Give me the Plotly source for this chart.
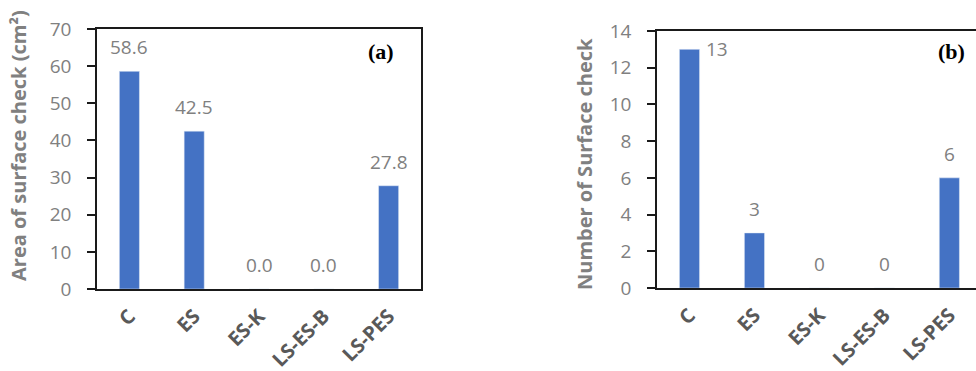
import plotly.graph_objects as go

# Treatments and measured surface-check results
categories = ["C", "ES", "ES-K", "LS-ES-B", "LS-PES"]
check_area = [58.6, 42.5, 0.0, 0.0, 27.8]      # cm²
check_count = [13, 3, 0, 0, 6]

bar_color = "#4472C4"
tick_gray = "#808080"
cat_gray = "#595959"
sans = "Open Sans"

fig = go.Figure()
fig.add_trace(go.Bar(x=categories, y=check_area, marker_color=bar_color,
                     width=0.31, xaxis="x", yaxis="y", showlegend=False))
fig.add_trace(go.Bar(x=categories, y=check_count, marker_color=bar_color,
                     width=0.31, xaxis="x2", yaxis="y2", showlegend=False))

axis_common = dict(showline=True, linecolor="#1a1a1a", linewidth=1.5, mirror=True,
                   showgrid=False, zeroline=False, automargin=False)

cat_font = dict(family=sans, size=20, color=cat_gray, weight="bold")
num_font = dict(family=sans, size=19, color=tick_gray)

fig.update_layout(
    width=976, height=371,
    margin=dict(l=0, r=0, t=0, b=0, autoexpand=False),
    plot_bgcolor="white", paper_bgcolor="white",
    xaxis=dict(domain=[97 / 976, 421 / 976], anchor="y", range=[-0.5, 4.5],
               tickangle=-45, ticks="", ticklabelstandoff=6, tickfont=cat_font,
               **axis_common),
    yaxis=dict(domain=[1 - 289 / 371, 1 - 29 / 371], anchor="x", range=[0, 70],
               dtick=10, ticks="outside", ticklen=8, tickcolor="#1a1a1a", tickwidth=1.5,
               ticklabelstandoff=12, tickfont=num_font, **axis_common),
    xaxis2=dict(domain=[657 / 976, 1.0], anchor="y2", range=[-0.5, 4.41],
                tickangle=-45, ticks="", ticklabelstandoff=6, tickfont=cat_font,
                **axis_common),
    yaxis2=dict(domain=[1 - 288 / 371, 1 - 31 / 371], anchor="x2", range=[0, 14],
                dtick=2, ticks="outside", ticklen=8, tickcolor="#1a1a1a", tickwidth=1.5,
                ticklabelstandoff=12, tickfont=num_font, **axis_common),
)

annotations = []
# value labels above the bars
for c, v in zip(categories, check_area):
    annotations.append(dict(x=c, y=v, xref="x", yref="y", text=f"{v:.1f}",
                            showarrow=False, yanchor="middle", yshift=24, font=num_font))
for i, (c, v) in enumerate(zip(categories, check_count)):
    if i == 0:
        # tallest bar: label sits beside the bar top
        annotations.append(dict(x=c, y=v, xref="x2", yref="y2", text=f"{v}",
                                showarrow=False, yanchor="middle", xshift=28, font=num_font))
    else:
        annotations.append(dict(x=c, y=v, xref="x2", yref="y2", text=f"{v}",
                                showarrow=False, yanchor="middle", yshift=24, font=num_font))

# axis titles
title_font = dict(family=sans, size=20, color=tick_gray, weight="bold")
annotations.append(dict(x=18 / 976, y=1 - 146 / 371, xref="paper", yref="paper",
                        xanchor="center", yanchor="middle",
                        text="Area of surface check (cm²)", textangle=-90, showarrow=False,
                        font=title_font))
annotations.append(dict(x=585 / 976, y=1 - 164 / 371, xref="paper", yref="paper",
                        xanchor="center", yanchor="middle",
                        text="Number of Surface check", textangle=-90, showarrow=False,
                        font=title_font))

# panel letters
letter_font = dict(family="Liberation Serif", size=22, color="black")
annotations.append(dict(x=381 / 976, y=1 - 51 / 371, xref="paper", yref="paper",
                        xanchor="center", yanchor="middle",
                        text="<b>(a)</b>", showarrow=False, font=letter_font))
annotations.append(dict(x=951 / 976, y=1 - 51 / 371, xref="paper", yref="paper",
                        xanchor="center", yanchor="middle",
                        text="<b>(b)</b>", showarrow=False, font=letter_font))

fig.update_layout(annotations=annotations)
fig.write_html("out.html")
